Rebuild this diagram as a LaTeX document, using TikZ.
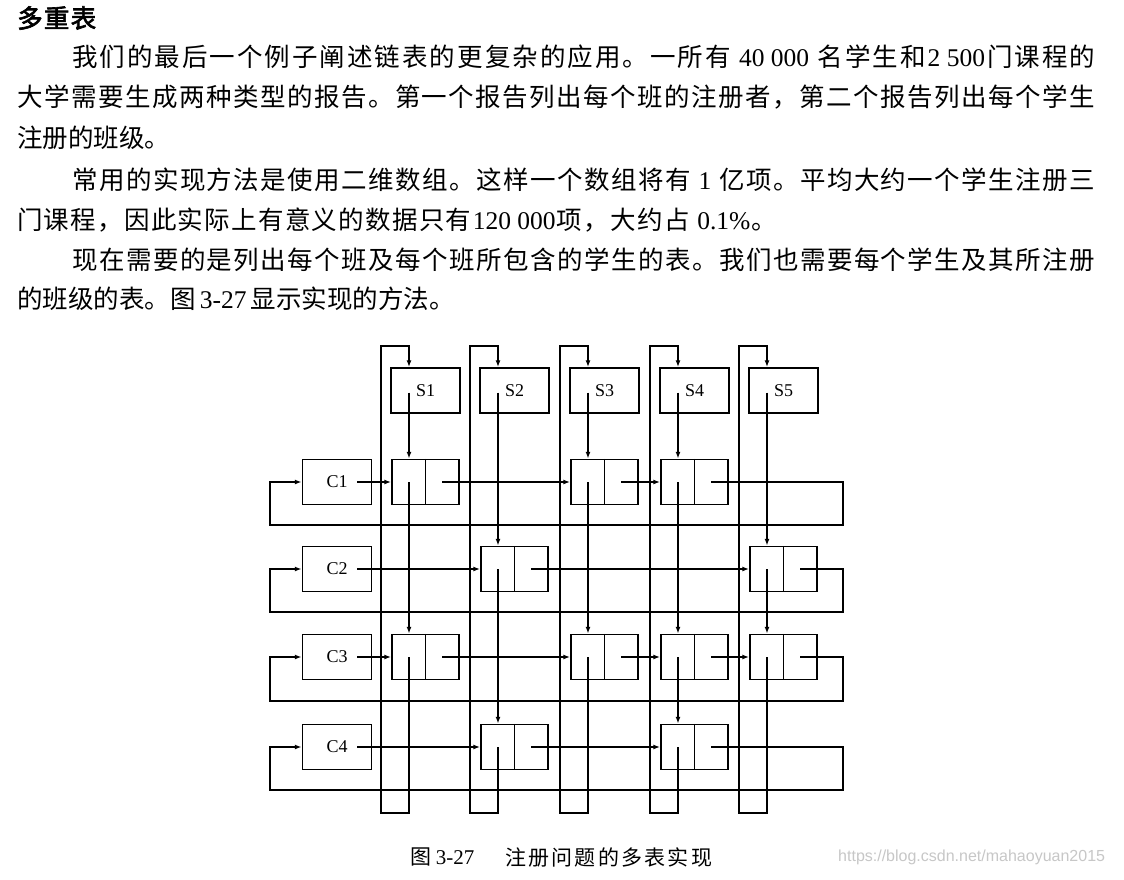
\documentclass[tikz,border=0pt]{standalone}
\usepackage{fontspec}
\setmainfont{Liberation Serif}
\newfontfamily\cjk{Noto Sans CJK SC}
\newfontfamily\cjkb{Noto Sans CJK SC}[FakeBold=2.5]
\newfontfamily\wmfont{Liberation Sans}
\usetikzlibrary{arrows.meta,calc}
\makeatletter
\def\sp@stop{\sp@stop}
\def\sp@stopdef{\sp@stop}
\def\spreadchars#1{\sp@first#1\sp@stop}
\def\sp@first#1{{#1}\sp@read}
\def\sp@read#1{\def\sp@tmp{#1}\ifx\sp@tmp\sp@stopdef\else\hskip 0pt plus 1fil\relax{#1}\expandafter\sp@read\fi}
\makeatother
\newcommand\jl[2]{\makebox[#1][s]{\spreadchars{#2}}}
\tikzset{
  ln/.style={line width=1.5pt},
  ar/.style={ln,-{Latex[length=7pt,width=5pt]}},
  sbox/.style={draw,ln,minimum width=69pt,minimum height=45pt,inner sep=0pt,font=\fontsize{18}{18}\selectfont},
  cell/.style={draw,ln,minimum width=67pt,minimum height=45pt,inner sep=0pt},
  txt/.style={anchor=west,inner sep=0pt,font=\cjk\fontsize{25.5}{25.5}\selectfont},
  captxt/.style={anchor=west,inner sep=0pt,font=\cjk\fontsize{21}{21}\selectfont}
}
\begin{document}
\begin{tikzpicture}[x=1pt,y=-1pt]
\useasboundingbox[fill=white] (0,0) rectangle (1124,879);
% ---------- text ----------
\node[anchor=west,inner sep=0pt,font=\cjkb\fontsize{25.5}{25.5}\selectfont] (title) at (17,18) {\jl{79pt}{多重表}};
\node[txt] (p1a) at (72,57) {\jl{1023pt}{我们的最后一个例子阐述链表的更复杂的应用。一所有{\rmfamily\ 40 000\ }名学生和{\rmfamily 2 500}门课程的}};
\node[txt] (p1b) at (17,97) {\jl{1078pt}{大学需要生成两种类型的报告。第一个报告列出每个班的注册者，第二个报告列出每个学生}};
\node[txt] (p1c) at (17,138) {注册的班级。};
\node[txt] (p2a) at (72,180) {\jl{1023pt}{常用的实现方法是使用二维数组。这样一个数组将有{\rmfamily\ 1\ }亿项。平均大约一个学生注册三}};
\node[txt] (p2b) at (17,220) {\jl{760pt}{门课程，因此实际上有意义的数据只有{\rmfamily 120 000}项，大约占{\rmfamily\ 0.1\%}。}};
\node[txt] (p3a) at (72,260) {\jl{1023pt}{现在需要的是列出每个班及每个班所包含的学生的表。我们也需要每个学生及其所注册}};
\node[txt] (p3b) at (17,299) {\jl{432pt}{的班级的表。图{\rmfamily\ 3-27\ }显示实现的方法。}};
% ---------- student boxes ----------
\node[sbox] (S1) at (425.5,390.5) {S1};
\node[sbox] (S2) at (514.5,390.5) {S2};
\node[sbox] (S3) at (604.5,390.5) {S3};
\node[sbox] (S4) at (694.5,390.5) {S4};
\node[sbox] (S5) at (783.5,390.5) {S5};
\foreach \s in {S1,S2,S3,S4,S5}{\coordinate (\s p) at ($(\s.center)+(-16.5,2)$);}
% ---------- class boxes ----------
\node[sbox] (C1) at (337,482) {C1};
\node[sbox] (C2) at (337,569) {C2};
\node[sbox] (C3) at (337,657) {C3};
\node[sbox] (C4) at (337,747) {C4};
\foreach \c in {C1,C2,C3,C4}{\coordinate (\c p) at ($(\c.center)+(20,0)$);}
% ---------- cells ----------
\node[cell] (n11) at (425.5,482) {};
\node[cell] (n13) at (604.5,482) {};
\node[cell] (n14) at (694.5,482) {};
\node[cell] (n22) at (514.5,569) {};
\node[cell] (n25) at (783.5,569) {};
\node[cell] (n31) at (425.5,657) {};
\node[cell] (n33) at (604.5,657) {};
\node[cell] (n34) at (694.5,657) {};
\node[cell] (n35) at (783.5,657) {};
\node[cell] (n42) at (514.5,747) {};
\node[cell] (n44) at (694.5,747) {};
\foreach \n in {n11,n13,n14,n22,n25,n31,n33,n34,n35,n42,n44}{
  \draw[ln] (\n.north) -- (\n.south);
  \coordinate (\n l) at ($(\n.center)+(-16.5,0)$);
  \coordinate (\n r) at ($(\n.center)+(16.5,0)$);
}
% ---------- loop corners ----------
\coordinate (cb1) at (381,813); \coordinate (ct1) at (381,346);
\coordinate (cb2) at (470,813); \coordinate (ct2) at (470,346);
\coordinate (cb3) at (560,813); \coordinate (ct3) at (560,346);
\coordinate (cb4) at (650,813); \coordinate (ct4) at (650,346);
\coordinate (cb5) at (739,813); \coordinate (ct5) at (739,346);
\coordinate (rr1) at (843,525); \coordinate (rl1) at (270,525);
\coordinate (rr2) at (843,612); \coordinate (rl2) at (270,612);
\coordinate (rr3) at (843,701); \coordinate (rl3) at (270,701);
\coordinate (rr4) at (843,790); \coordinate (rl4) at (270,790);
% ---------- column lists ----------
\draw[ar] (S1p) -- (S1p |- n11.north);
\draw[ar] (n11l) -- (n11l |- n31.north);
\draw[ar] (n31l) |- (cb1) -- (ct1) -| (S1p |- S1.north);
\draw[ar] (S2p) -- (S2p |- n22.north);
\draw[ar] (n22l) -- (n22l |- n42.north);
\draw[ar] (n42l) |- (cb2) -- (ct2) -| (S2p |- S2.north);
\draw[ar] (S3p) -- (S3p |- n13.north);
\draw[ar] (n13l) -- (n13l |- n33.north);
\draw[ar] (n33l) |- (cb3) -- (ct3) -| (S3p |- S3.north);
\draw[ar] (S4p) -- (S4p |- n14.north);
\draw[ar] (n14l) -- (n14l |- n34.north);
\draw[ar] (n34l) -- (n34l |- n44.north);
\draw[ar] (n44l) |- (cb4) -- (ct4) -| (S4p |- S4.north);
\draw[ar] (S5p) -- (S5p |- n25.north);
\draw[ar] (n25l) -- (n25l |- n35.north);
\draw[ar] (n35l) |- (cb5) -- (ct5) -| (S5p |- S5.north);
% ---------- row lists ----------
\draw[ar] (C1p) -- (n11.west);
\draw[ar] (n11r) -- (n13.west);
\draw[ar] (n13r) -- (n14.west);
\draw[ar] (n14r) -| (rr1) -- (rl1) |- (C1.west);
\draw[ar] (C2p) -- (n22.west);
\draw[ar] (n22r) -- (n25.west);
\draw[ar] (n25r) -| (rr2) -- (rl2) |- (C2.west);
\draw[ar] (C3p) -- (n31.west);
\draw[ar] (n31r) -- (n33.west);
\draw[ar] (n33r) -- (n34.west);
\draw[ar] (n34r) -- (n35.west);
\draw[ar] (n35r) -| (rr3) -- (rl3) |- (C3.west);
\draw[ar] (C4p) -- (n42.west);
\draw[ar] (n42r) -- (n44.west);
\draw[ar] (n44r) -| (rr4) -- (rl4) |- (C4.west);
% ---------- caption ----------
\node[captxt] (capA) at (410,857) {图 {\rmfamily 3-27}};
\node[captxt] (capB) at (505,857) {\jl{207pt}{注册问题的多表实现}};
\node[anchor=west,inner sep=0pt,text=black!22,font=\wmfont\fontsize{16}{16}\selectfont] (wm) at (838,857) {https://blog.csdn.net/mahaoyuan2015};
\end{tikzpicture}
\end{document}
